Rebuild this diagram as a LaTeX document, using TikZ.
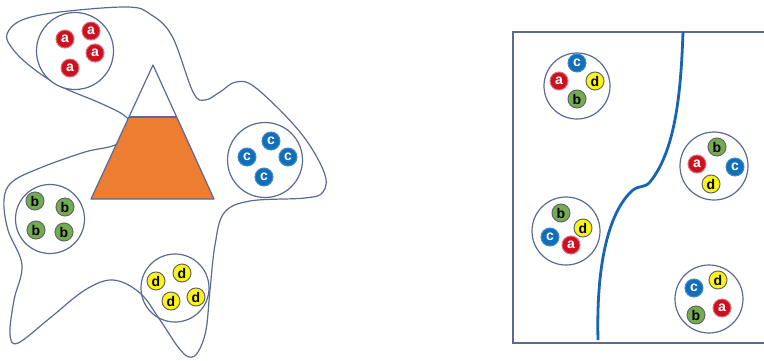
\documentclass[tikz,border=0pt]{standalone}
\usepackage{fontspec}
\setmainfont{Liberation Sans}
\definecolor{outline}{RGB}{90,106,146}
\definecolor{redball}{RGB}{204,16,32}
\definecolor{blueball}{RGB}{16,110,186}
\definecolor{greenball}{RGB}{116,172,82}
\definecolor{yellowball}{RGB}{250,245,20}
\definecolor{orangefill}{RGB}{237,125,49}
\definecolor{splitline}{RGB}{24,100,180}
\tikzset{
  ball/.style={circle, minimum size=18pt, inner sep=0pt, line width=1pt,
    font=\fontsize{14}{14}\selectfont\bfseries},
  ra/.style={ball, fill=redball, draw=redball!60!white, text=white},
  rb/.style={ball, fill=greenball, draw=black!60, text=black},
  rc/.style={ball, fill=blueball, draw=blueball!80!white, text=white},
  rd/.style={ball, fill=yellowball, draw=black!60, text=black},
  group/.style={circle, draw=outline, line width=1.2pt, inner sep=0pt},
}
\begin{document}
\begin{tikzpicture}[x=1pt, y=-1pt]
\useasboundingbox (0,0) rectangle (764,360);

% region enclosing the four groups
\draw[outline, line width=1.2pt, tension=0.6] plot[smooth cycle] coordinates {
  (7,34) (22,20) (60,12) (127,7) (150,14) (172,36) (193,92) (205,100)
  (220,92) (236,82) (256,88) (300,132) (324,172) (323,192) (305,198)
  (250,201) (224,213) (215,245) (210,290) (206,330) (198,352) (189,357)
  (178,347) (160,320) (140,293) (113,280) (85,290) (50,318) (18,343)
  (10,334) (14,300) (22,265) (8,230) (4,200) (12,182) (40,168) (85,152)
  (115,145) (133,130) (125,116) (100,103) (60,86) (30,66) (12,48)};

% cone with its filled lower part
\node[coordinate] (apex) at (153,65) {};
\node[coordinate] (bl) at (91,199) {};
\node[coordinate] (br) at (214,199) {};
\node[coordinate] (ml) at (129,117) {};
\node[coordinate] (mr) at (177,117) {};
\fill[white] (apex) -- (br) -- (bl) -- cycle;
\fill[orangefill] (ml) -- (mr) -- (br) -- (bl) -- cycle;
\draw[outline, line width=1.2pt, line join=round] (apex) -- (br) -- (bl) -- cycle;
\draw[outline, line width=1.2pt] (ml) -- (mr);

% sorted groups
\node[group, minimum size=77pt, fill=white] (ga) at (75,51) {};
\node[ra] (a1) at (65,39) {a};
\node[ra] (a2) at (91,31) {a};
\node[ra] (a3) at (95,53) {a};
\node[ra] (a4) at (70,68) {a};

\node[group, minimum size=75pt] (gc) at (265,160) {};
\node[rc] (c1) at (271,141) {c};
\node[rc] (c2) at (247,157) {c};
\node[rc] (c3) at (288,157) {c};
\node[rc] (c4) at (264,177) {c};

\node[group, minimum size=69pt] (gb) at (50,219) {};
\node[rb] (b1) at (35,201) {b};
\node[rb] (b2) at (65,207) {b};
\node[rb] (b3) at (36,230) {b};
\node[rb] (b4) at (64,232) {b};

\node[group, minimum size=68pt] (gd) at (175,288) {};
\node[rd] (d1) at (156,281) {d};
\node[rd] (d2) at (182,273) {d};
\node[rd] (d3) at (171,301) {d};
\node[rd] (d4) at (196,297) {d};

% mixed groups in the frame
\node[coordinate] (ftr) at (764,32) {};
\node[coordinate] (ftl) at (513,32) {};
\node[coordinate] (fbl) at (513,343) {};
\node[coordinate] (fbr) at (764,343) {};
\draw[outline, line width=1.4pt] (ftr) -- (ftl) -- (fbl) -- (fbr);

\node[coordinate] (s0) at (683,32) {};
\node[coordinate] (s1) at (598,340) {};
\draw[splitline, line width=2.8pt] (s0)
  .. controls (681,90) and (676,150) .. (650,182)
  .. controls (645,188) and (640,185) .. (633,190)
  .. controls (610,210) and (596,260) .. (s1);

\node[group, minimum size=66pt] (m1) at (577,86) {};
\node[rc] (m1c) at (577,63) {c};
\node[ra] (m1a) at (559,81) {a};
\node[rd] (m1d) at (595,81) {d};
\node[rb] (m1b) at (577,99) {b};

\node[group, minimum size=68pt] (m2) at (714,166) {};
\node[rb] (m2b) at (717,147) {b};
\node[ra] (m2a) at (697,164) {a};
\node[rc] (m2c) at (735,167) {c};
\node[rd] (m2d) at (711,184) {d};

\node[group, minimum size=68pt] (m3) at (566,231) {};
\node[rb] (m3b) at (561,213) {b};
\node[rd] (m3d) at (583,228) {d};
\node[rc] (m3c) at (550,237) {c};
\node[ra] (m3a) at (571,245) {a};

\node[group, minimum size=68pt] (m4) at (709,299) {};
\node[rd] (m4d) at (718,280) {d};
\node[rc] (m4c) at (694,288) {c};
\node[ra] (m4a) at (722,308) {a};
\node[rb] (m4b) at (696,315) {b};
\end{tikzpicture}
\end{document}
